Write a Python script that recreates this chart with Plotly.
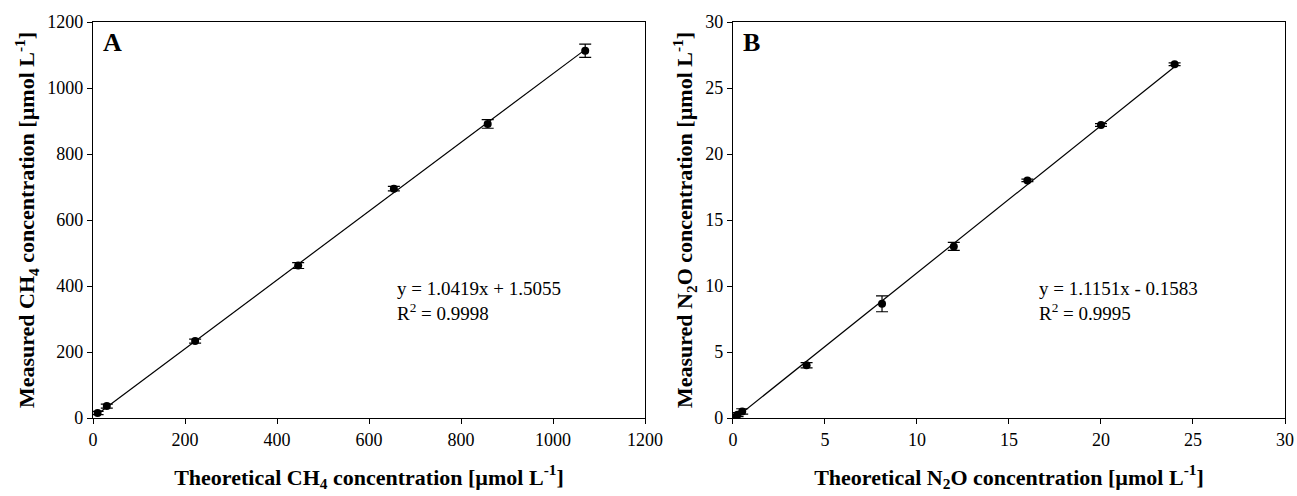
import plotly.graph_objects as go

# Panel A (CH4)
ch4_theo = [10, 30, 222, 446, 654, 858, 1070]
ch4_meas = [15, 36, 233, 462, 695, 891, 1113]
ch4_err = [5, 6, 6, 9, 7, 13, 20]
ch4_slope, ch4_int = 1.0419, 1.5055

# Panel B (N2O)
n2o_theo = [0.1, 0.25, 0.5, 4, 8.1, 12, 16, 20, 24]
n2o_meas = [0.05, 0.25, 0.5, 4.0, 8.65, 13.0, 18.0, 22.2, 26.8]
n2o_err = [0.1, 0.15, 0.2, 0.2, 0.6, 0.3, 0.1, 0.1, 0.1]
n2o_slope, n2o_int = 1.1151, -0.1583

FONT = "Liberation Serif, Times New Roman, serif"

fig = go.Figure()

def add_panel(xs, ys, errs, slope, icpt, xa, ya, x0, x1):
    fig.add_trace(go.Scatter(
        x=[x0, x1], y=[slope * x0 + icpt, slope * x1 + icpt],
        mode="lines", line=dict(color="black", width=1.2),
        xaxis=xa, yaxis=ya, showlegend=False, hoverinfo="skip"))
    fig.add_trace(go.Scatter(
        x=xs, y=ys, mode="markers",
        marker=dict(color="black", size=8),
        error_y=dict(type="data", array=errs, color="black", thickness=1.2, width=6),
        xaxis=xa, yaxis=ya, showlegend=False))

add_panel(ch4_theo, ch4_meas, ch4_err, ch4_slope, ch4_int, "x", "y", 10, 1070)
add_panel(n2o_theo, n2o_meas, n2o_err, n2o_slope, n2o_int, "x2", "y2", 0, 24)

axis_common = dict(
    showline=True, linecolor="black", linewidth=1.2, mirror=True,
    ticks="outside", ticklen=5, tickcolor="black", tickwidth=1.2,
    showgrid=False, zeroline=False,
    tickfont=dict(family=FONT, size=18, color="black"),
)
title_font = dict(family=FONT, size=22, color="black")

fig.update_layout(
    width=1297, height=496,
    margin=dict(l=93, r=12, t=22, b=78, autoexpand=False),
    paper_bgcolor="white", plot_bgcolor="white",
    font=dict(family=FONT, color="black"),
    xaxis=dict(domain=[0, 0.4631], range=[0, 1200], dtick=200, anchor="y",
               title=dict(text="<b>Theoretical CH<sub>4</sub> concentration [µmol L<sup>-1</sup>]</b>",
                          font=title_font, standoff=20), **axis_common),
    yaxis=dict(domain=[0, 1], range=[0, 1200], dtick=200, anchor="x",
               title=dict(text="<b>Measured CH<sub>4</sub> concentration [µmol L<sup>-1</sup>]</b>",
                          font=title_font, standoff=6), **axis_common),
    xaxis2=dict(domain=[0.5369, 1], range=[0, 30], dtick=5, anchor="y2",
                title=dict(text="<b>Theoretical N<sub>2</sub>O concentration [µmol L<sup>-1</sup>]</b>",
                           font=title_font, standoff=20), **axis_common),
    yaxis2=dict(domain=[0, 1], range=[0, 30], dtick=5, anchor="x2",
                title=dict(text="<b>Measured N<sub>2</sub>O concentration [µmol L<sup>-1</sup>]</b>",
                           font=title_font, standoff=6), **axis_common),
)

ann_font = dict(family=FONT, size=19, color="black")
fig.add_annotation(x=0.014, y=0.99, xref="x domain", yref="y domain", text="<b>A</b>",
                   showarrow=False, xanchor="left", yanchor="top",
                   font=dict(family=FONT, size=26, color="black"))
fig.add_annotation(x=0.014, y=0.99, xref="x2 domain", yref="y2 domain", text="<b>B</b>",
                   showarrow=False, xanchor="left", yanchor="top",
                   font=dict(family=FONT, size=26, color="black"))
fig.add_annotation(x=657, y=354, xref="x", yref="y",
                   text="y = 1.0419x + 1.5055<br>R<sup>2</sup> = 0.9998",
                   showarrow=False, xanchor="left", yanchor="middle", align="left", font=ann_font)
fig.add_annotation(x=16.5, y=8.85, xref="x2", yref="y2",
                   text="y = 1.1151x - 0.1583<br>R<sup>2</sup> = 0.9995",
                   showarrow=False, xanchor="left", yanchor="middle", align="left", font=ann_font)

fig.write_html("out.html", config={"displayModeBar": False},
               post_script="document.body.style.margin='0';document.body.style.overflow='hidden';")
